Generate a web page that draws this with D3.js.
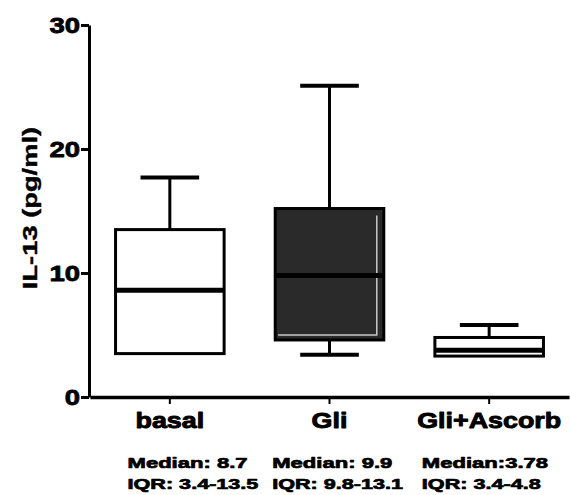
<!DOCTYPE html>
<html><head><meta charset="utf-8">
<script src="https://cdn.jsdelivr.net/npm/d3@7"></script>
<style>
body{margin:0;background:#fff}
text{font-family:"Liberation Sans",Arial,sans-serif;font-weight:bold;fill:#000}
</style>
</head><body><svg id="c" width="571" height="495"></svg>
<script>
// ---- data ----
const categories = ["basal", "Gli", "Gli+Ascorb"];
const whiskerLow = [3.5, 3.4, 3.3];
const q1 = [3.5, 4.6, 3.3];
const median = [8.6, 9.8, 3.78];
const q3 = [13.5, 15.2, 4.8];
const whiskerHigh = [17.7, 25.1, 5.8];
const medianLabels = ["Median: 8.7", "Median: 9.9", "Median:3.78"];
const iqrLabels = ["IQR: 3.4-13.5", "IQR: 9.8-13.1", "IQR: 3.4-4.8"];
const yTicks = [0, 10, 20, 30];
const yLabel = "IL-13 (pg/ml)";

// ---- layout / style ----
const fills = ["#ffffff", "#2a2a2a", "#ffffff"];
const statOffsets = [12, -3, -13];

const svg = d3.select("#c");
const y = d3.scaleLinear().domain([0, 30]).range([397, 25]);
const x = d3.scaleBand().domain(categories).range([90, 569]).paddingInner(0.32).paddingOuter(0.16);

function stretch(sel, k) {
  sel.each(function () {
    const w = this.getComputedTextLength();
    d3.select(this).attr("textLength", w * k).attr("lengthAdjust", "spacingAndGlyphs");
  });
}
function heavy(sel, w) {
  sel.attr("stroke", "#000").attr("stroke-width", w).attr("stroke-linejoin", "round");
}

// boxes
const data = categories.map((c, i) => ({c, i, lo: whiskerLow[i], q1: q1[i], med: median[i], q3: q3[i], hi: whiskerHigh[i]}));
const g = svg.append("g");
const bw = x.bandwidth();
const capW = bw * 0.54;
data.forEach(d => {
  const cx = x(d.c) + bw / 2;
  const gg = g.append("g").attr("stroke", "#000").attr("stroke-width", 3);
  // whiskers
  gg.append("line").attr("x1", cx).attr("x2", cx).attr("y1", y(d.q3)).attr("y2", y(d.hi));
  if (d.lo < d.q1) {
    gg.append("line").attr("x1", cx).attr("x2", cx).attr("y1", y(d.q1)).attr("y2", y(d.lo));
    gg.append("line").attr("x1", cx - capW / 2).attr("x2", cx + capW / 2).attr("y1", y(d.lo)).attr("y2", y(d.lo)).attr("stroke-width", 4);
  }
  gg.append("line").attr("x1", cx - capW / 2).attr("x2", cx + capW / 2).attr("y1", y(d.hi)).attr("y2", y(d.hi)).attr("stroke-width", 4);
  // box
  gg.append("rect").attr("x", x(d.c)).attr("width", bw)
    .attr("y", y(d.q3)).attr("height", y(d.q1) - y(d.q3))
    .attr("fill", fills[d.i]);
  if (d.i === 1) {
    gg.append("path")
      .attr("d", `M${x(d.c) + bw - 7},${y(d.q3) + 7} V${y(d.q1) - 5} H${x(d.c) + 3}`)
      .attr("stroke", "#c8c8c8").attr("stroke-width", 1.5).attr("fill", "none");
  }
  gg.append("line").attr("x1", x(d.c)).attr("x2", x(d.c) + bw).attr("y1", y(d.med)).attr("y2", y(d.med)).attr("stroke-width", 5);
});

// y axis
const ya = svg.append("g").attr("transform", "translate(89,0)")
  .call(d3.axisLeft(y).tickValues(yTicks).tickSize(8).tickPadding(1).tickSizeOuter(0));
ya.select(".domain").attr("stroke-width", 3);
ya.selectAll(".tick line").attr("stroke-width", 3);
ya.selectAll(".tick text").attr("font-size", 22).attr("font-family", null).call(stretch, 1.25).call(heavy, 0.8);

// x axis
const xa = svg.append("g").attr("transform", "translate(0,397)")
  .call(d3.axisBottom(x).tickSize(7).tickPadding(8).tickSizeOuter(0));
xa.select(".domain").attr("stroke-width", 3.5);
xa.selectAll(".tick line").attr("stroke-width", 2);
xa.selectAll(".tick text").attr("font-size", 22).attr("font-family", null).attr("dy", "0.71em").call(stretch, 1.22).call(heavy, 0.9);

// y label
svg.append("text").attr("transform", "translate(37,208) rotate(-90)")
  .attr("text-anchor", "middle").attr("font-size", 21).text(yLabel).call(stretch, 1.3).call(heavy, 0.4);

// stats
const st = svg.append("g");
data.forEach(d => {
  const sx = x(d.c) + statOffsets[d.i];
  st.append("text").attr("x", sx).attr("y", 468).attr("font-size", 15).text(medianLabels[d.i]).call(stretch, 1.47).call(heavy, 0.7);
  st.append("text").attr("x", sx).attr("y", 489).attr("font-size", 15).text(iqrLabels[d.i]).call(stretch, 1.44).call(heavy, 0.7);
});
</script></body></html>
